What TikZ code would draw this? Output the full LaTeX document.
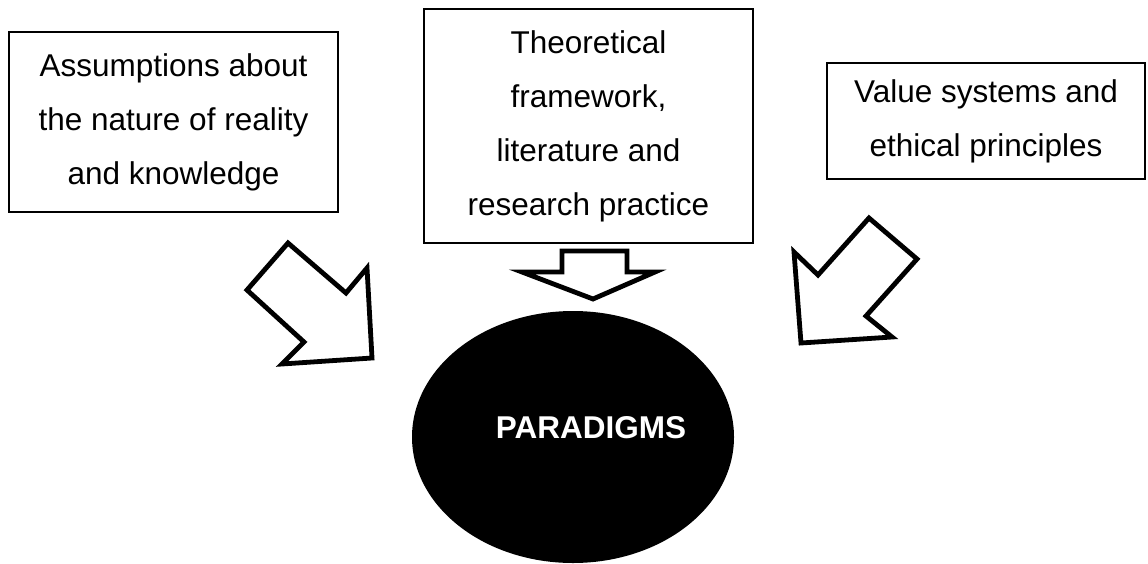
\documentclass[tikz,border=0pt]{standalone}
\usepackage{fontspec}
\setmainfont{Liberation Sans}
\usetikzlibrary{shapes.geometric}

\tikzset{
  textbox/.style={draw=black, line width=1.4pt, fill=white, align=center,
    inner sep=0pt, font=\fontsize{31.5}{54}\selectfont},
  blockarrow/.style={draw=black, fill=white, line width=4.8pt, line join=miter},
  hub/.style={ellipse, fill=black, draw=none, inner sep=0pt},
  hublabel/.style={text=white, font=\fontsize{31.5}{36}\selectfont\bfseries, inner sep=0pt}
}

\begin{document}
\begin{tikzpicture}[x=1pt, y=-1pt]
  \useasboundingbox (0,0) rectangle (1148,563);

  % the three source boxes
  \node[textbox, minimum width=329pt, minimum height=180pt] (assume) at (173.5,122)
    {Assumptions about\\the nature of reality\\and knowledge};
  \node[textbox, minimum width=329pt, minimum height=234pt] (theory) at (588.5,126)
    {Theoretical\\framework,\\literature and\\research practice};
  \node[textbox, minimum width=318pt, minimum height=116pt] (values) at (986,121)
    {Value systems and\\ethical principles};

  % the central ellipse
  \node[hub, minimum width=322pt, minimum height=252pt] (para) at (573,437) {};
  \node[hublabel] (paralabel) at (591,428) {PARADIGMS};

  % block arrow from the left box
  \draw[blockarrow] (288,243) -- (247,290) -- (304,342) -- (282,364)
    -- (372,358) -- (367,268) -- (346,293) -- cycle;

  % block arrow from the middle box
  \draw[blockarrow] (562,251) -- (627,251) -- (627,272) -- (655,272)
    -- (593,299) -- (522,272) -- (562,272) -- cycle;

  % block arrow from the right box
  \draw[blockarrow] (869,218) -- (917,259) -- (866,316) -- (892,337)
    -- (801,343) -- (794,252) -- (818,275) -- cycle;
\end{tikzpicture}
\end{document}
